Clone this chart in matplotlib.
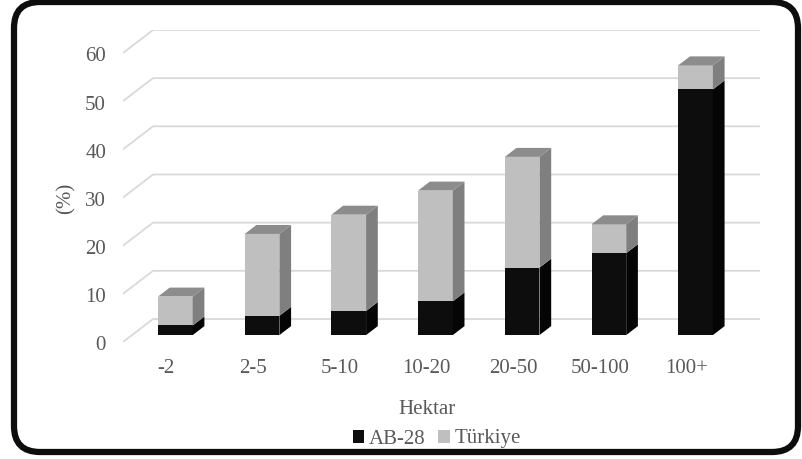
"""
Stacked 3D-style column chart: farm size (Hektar) shares, AB-28 vs Türkiye
"""
import numpy as np, matplotlib
matplotlib.use('Agg')
import matplotlib.pyplot as plt
from matplotlib.patches import Polygon, Patch, FancyBboxPatch
from matplotlib.transforms import IdentityTransform

categories = ['-2', '2-5', '5-10', '10-20', '20-50', '50-100', '100+']
ab28 = [2, 4, 5, 7, 14, 17, 51]
turkiye = [6, 17, 20, 23, 23, 6, 5]
yticks = [0, 10, 20, 30, 40, 50, 60]

TXT = '#595959'
GRID = '#D9D9D9'
plt.rcParams['font.family'] = ['Liberation Serif', 'DejaVu Serif']

# oblique "depth" vector in data units (x: categories, y: percent)
DX, DY = 0.346, 4.775
F0, F1 = 0.30, 0.69      # bar front / back as a fraction of the depth
W = 0.40                 # bar width

fig = plt.figure(figsize=(8.02, 4.59), dpi=100)
ax = fig.add_axes([123 / 802, 117 / 459, 638 / 802, 312 / 459])
ax.set_xlim(-0.5, -0.5 + 638 / 86.7)
ax.set_ylim(0, 312 / 4.817)
ax.axis('off')

# gridlines: side wall diagonal + back wall
x_left, x_right = -0.5, len(categories) - 0.5
for v in yticks:
    ax.plot([x_left, x_left + DX, x_right + DX], [v, v + DY, v + DY],
            color=GRID, lw=1.3, zorder=1, solid_capstyle='butt')
    ax.text(x_left - 0.196, v - 0.8, str(v), ha='right', va='center',
            fontsize=15, color=TXT)

def box(x, y0, y1, front, side, top=None):
    fx, fy = x - W / 2 + F0 * DX, F0 * DY
    d = (F1 - F0)
    ax.add_patch(Polygon([(fx, y0 + fy), (fx + W, y0 + fy), (fx + W, y1 + fy), (fx, y1 + fy)],
                         closed=True, fc=front, ec='none', zorder=3))
    ax.add_patch(Polygon([(fx + W, y0 + fy), (fx + W + d * DX, y0 + fy + d * DY),
                          (fx + W + d * DX, y1 + fy + d * DY), (fx + W, y1 + fy)],
                         closed=True, fc=side, ec='none', zorder=3))
    if top:
        ax.add_patch(Polygon([(fx, y1 + fy), (fx + W, y1 + fy),
                              (fx + W + d * DX, y1 + fy + d * DY), (fx + d * DX, y1 + fy + d * DY)],
                             closed=True, fc=top, ec='none', zorder=3))

for i, (a, t) in enumerate(zip(ab28, turkiye)):
    box(i, 0, a, '#0D0D0D', '#050505')
    box(i, a, a + t, '#BFBFBF', '#7F7F7F', '#8C8C8C')
    ax.text(i, -5.6, categories[i], ha='center', va='center', fontsize=15, color=TXT)

fig.text(66 / 802, 1 - 198 / 459, '(%)', rotation=90, ha='center', va='center',
         fontsize=15, color=TXT)
fig.text(427 / 802, 1 - 409 / 459, 'Hektar', ha='center', va='center',
         fontsize=15, color=TXT)

handles = [Patch(fc='#0D0D0D', ec='none', label='AB-28'),
           Patch(fc='#BFBFBF', ec='none', label='Türkiye')]
leg = fig.legend(handles=handles, loc='center', bbox_to_anchor=(437 / 802, 1 - 439 / 459),
                 ncol=2, frameon=False, fontsize=15, handlelength=0.55, handleheight=0.6,
                 handletextpad=0.25, columnspacing=0.6)
for txt in leg.get_texts():
    txt.set_color(TXT)

fig.add_artist(FancyBboxPatch((14, 7), 784, 450, boxstyle='round,pad=0,rounding_size=26',
                              fc='none', ec='#0D0D0D', lw=4.5, transform=IdentityTransform()))

plt.savefig('out.png', dpi=100, facecolor='white')
plt.close()
